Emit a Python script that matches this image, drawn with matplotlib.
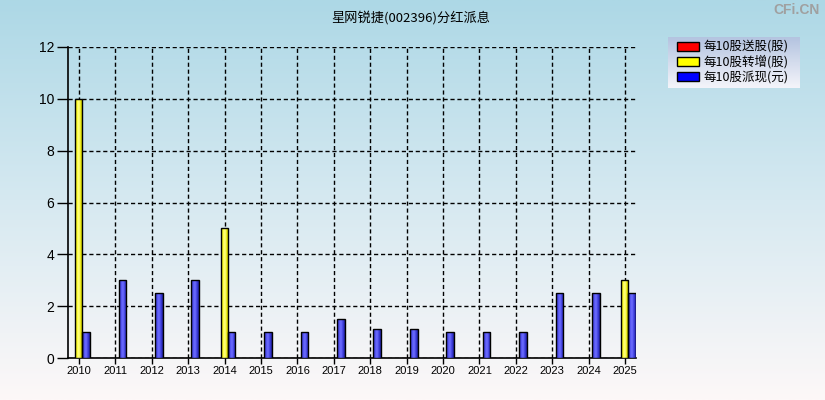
import numpy as np
import matplotlib
matplotlib.use("Agg")
import matplotlib.pyplot as plt
from matplotlib.colors import LinearSegmentedColormap
from matplotlib.patches import Rectangle

plt.rcParams['font.family'] = ['Noto Sans CJK SC', 'DejaVu Sans']

years = [str(y) for y in range(2010, 2026)]
song = [0] * 16                                   # 每10股送股
zhuan = [10, 0, 0, 0, 5, 0, 0, 0, 0, 0, 0, 0, 0, 0, 0, 3]   # 每10股转增
pai = [1, 3, 2.5, 3, 1, 1, 1, 1.5, 1.1, 1.1, 1, 1, 1, 2.5, 2.5, 2.5]  # 每10股派现
legend_labels = ["每10股送股(股)", "每10股转增(股)", "每10股派现(元)"]
legend_colors = ["#ff0000", "#ffff00", "#0000ff"]
title = "星网锐捷(002396)分红派息"

W, H = 825, 400
fig = plt.figure(figsize=(W / 100, H / 100), dpi=100)

# background gradient over the whole figure
bg = fig.add_axes([0, 0, 1, 1], zorder=-10)
bg_cmap = LinearSegmentedColormap.from_list("bg", ["#add8e6", "#d6e9f1", "#fdf8f8"])
bg.imshow(np.linspace(0, 1, 256).reshape(-1, 1), aspect="auto", cmap=bg_cmap,
          extent=[0, 1, 0, 1])
bg.set_axis_off()

ax = fig.add_axes([68 / W, 1 - 358 / H, (636 - 68) / W, (358 - 47) / H])
ax.patch.set_alpha(0)

yellow_cmap = LinearSegmentedColormap.from_list("yl", ["#b8b800", "#ffff30", "#ffff90", "#e8e800", "#a8a800"])
blue_cmap = LinearSegmentedColormap.from_list("bl", ["#2a2ab0", "#5050f0", "#7070ff", "#4040e0", "#2020a0"])
grad = np.linspace(0, 1, 64).reshape(1, -1)


def shaded_bars(xs, vals, left_off, width, cmap):
    for x, v in zip(xs, vals):
        if v <= 0:
            continue
        x0 = x + left_off
        im = ax.imshow(grad, cmap=cmap, aspect="auto", extent=[x0, x0 + width, 0, v],
                       zorder=3, interpolation="bilinear")
        r = Rectangle((x0, 0), width, v, facecolor="none", edgecolor="black", lw=1, zorder=4)
        ax.add_patch(r)
        im.set_clip_path(r)


xs = np.arange(len(years))
shaded_bars(xs, zhuan, -0.11, 0.2, yellow_cmap)
shaded_bars(xs, pai, 0.09, 0.21, blue_cmap)

ax.set_xlim(-0.3, 15.3)
ax.set_ylim(0, 12)
ax.set_xticks(xs)
ax.set_xticklabels(years, family=['Liberation Sans Narrow', 'Liberation Sans'], fontsize=8)
ax.set_yticks(range(0, 13, 2))
ax.set_yticklabels([str(v) for v in range(0, 13, 2)], family='Liberation Sans', fontsize=10)
ax.tick_params(axis='y', length=8, width=1, pad=2, colors='black')
ax.tick_params(axis='x', length=4, width=1, pad=2)
ax.grid(True, color='black', linestyle=(0, (3, 2)), linewidth=1)
ax.set_axisbelow(True)
for s in ['top', 'right']:
    ax.spines[s].set_visible(False)
for s in ['left', 'bottom']:
    ax.spines[s].set_linewidth(1.2)

fig.text(411 / W, 1 - 18 / H, title, ha='center', va='center', fontsize=9.5)
fig.text(820 / W, 1 - 10 / H, "CFi.CN", ha='right', va='center', fontsize=10,
         color='#a0a0a0', family='Liberation Sans', fontweight='bold')

# legend box
lg = fig.add_axes([668 / W, 1 - 88 / H, (800 - 668) / W, (88 - 37) / H])
lg_cmap = LinearSegmentedColormap.from_list("lg", ["#b4c4e0", "#f4f4fa"])
lg.imshow(np.linspace(0, 1, 64).reshape(-1, 1), aspect="auto", cmap=lg_cmap, extent=[0, 132, 51, 0])
lg.set_xlim(0, 132)
lg.set_ylim(51, 0)
lg.set_axis_off()
for i, (lab, col) in enumerate(zip(legend_labels, legend_colors)):
    cy = 9.5 + i * 15.2
    lg.add_patch(Rectangle((9, cy - 4.5), 22, 9, facecolor=col, edgecolor='black', lw=1))
    lg.text(35, cy, lab, va='center', ha='left', fontsize=9)

fig.savefig("out.png", dpi=100)
